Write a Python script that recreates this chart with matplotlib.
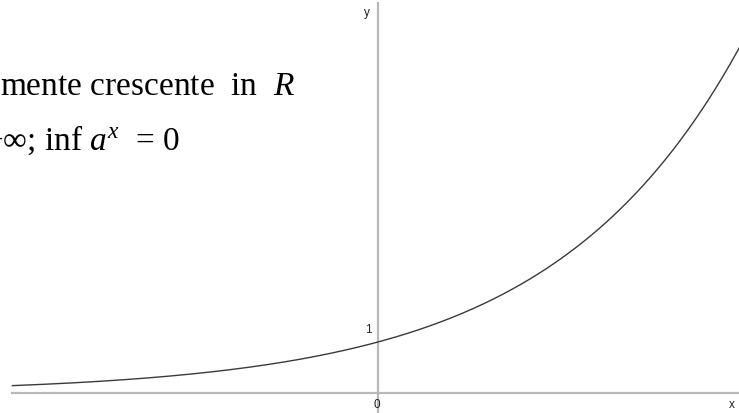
import numpy as np
import matplotlib
matplotlib.use("Agg")
import matplotlib.pyplot as plt

plt.rcParams["mathtext.fontset"] = "custom"
plt.rcParams["mathtext.rm"] = "Liberation Serif"
plt.rcParams["mathtext.it"] = "Liberation Serif:italic"

# exponential y = a^x with a > 1
base = 2.0
x_min, x_max = -2.79, 2.76
x_view = (-2.885, 2.757)
y_view = (-0.392, 7.706)

fig = plt.figure(figsize=(7.39, 4.13), dpi=100)
ax = fig.add_axes([0, 0, 1, 1])
ax.set_xlim(*x_view)
ax.set_ylim(*y_view)
ax.axis("off")

axis_col = "#b8b8b8"
ax.plot([x_min, x_view[1]], [0, 0], color=axis_col, lw=1.6, zorder=1)
ax.plot([0, 0], [y_view[0], 7.65], color=axis_col, lw=1.6, zorder=1)

xs = np.linspace(x_min, x_max, 400)
ax.plot(xs, base ** xs, color="#3a3a3a", lw=1.0, zorder=2)

lab = dict(fontfamily="Liberation Sans", fontsize=8.5, color="#222222")
ax.text(-0.05, 1.12, "1", ha="right", va="bottom", **lab)
ax.text(-0.01, -0.12, "0", ha="center", va="top", **lab)
ax.text(2.70, -0.12, "x", ha="center", va="top", **lab)
ax.text(-0.06, 7.45, "y", ha="right", va="center", **lab)

serif = dict(fontfamily="Liberation Serif", fontsize=24, color="black")
fig.text(0.0, 1 - 95 / 413, "mente crescente  in  $R$", ha="left",
         va="baseline", **serif)
fig.text(-16 / 739, 1 - 150 / 413, "+\u221e; inf $a^{x}$  = 0", ha="left",
         va="baseline", **serif)

fig.savefig("out.png", dpi=100)
